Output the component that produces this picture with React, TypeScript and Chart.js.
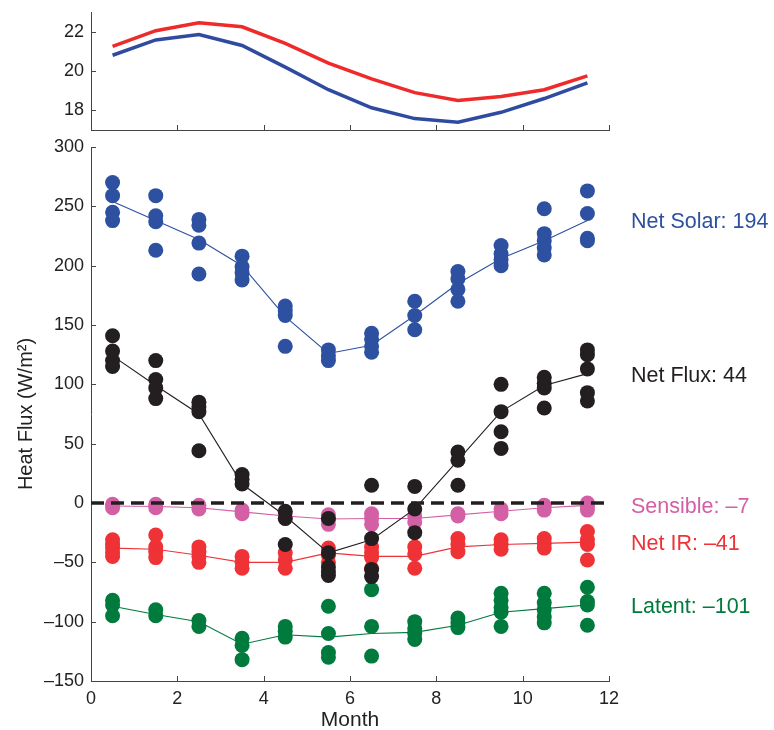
import React, { useEffect, useRef } from 'react';
import Chart from 'chart.js/auto';

// ---------- data ----------
const months = [0.5, 1.5, 2.5, 3.5, 4.5, 5.5, 6.5, 7.5, 8.5, 9.5, 10.5, 11.5];
const monthTicks = [0, 2, 4, 6, 8, 10, 12];
const fluxTicks = [-150, -100, -50, 0, 50, 100, 150, 200, 250, 300];
const tempTicks = [18, 20, 22];

const tempRed = [21.25, 22.05, 22.45, 22.25, 21.4, 20.4, 19.6, 18.9, 18.5, 18.7, 19.05, 19.75];
const tempBlue = [20.8, 21.58, 21.85, 21.3, 20.2, 19.05, 18.13, 17.58, 17.4, 17.9, 18.6, 19.4];

const solarPts = [
  [270, 259, 245, 238], [259, 242, 237, 213], [239, 234, 219, 193], [208, 199, 194, 188],
  [166, 162, 158, 132], [129, 124, 120], [143, 138, 132, 127], [170, 158, 146],
  [195, 189, 180, 170], [217, 210, 205, 200], [248, 227, 221, 215, 209], [263, 244, 223, 221],
];
const solarMean = [254, 238, 222, 200, 157, 126, 133, 158, 185, 206, 221, 238];

const netPts = [
  [141, 128, 120, 115], [120, 104, 97, 88], [85, 81, 77, 44], [24, 20, 16],
  [-7, -13, -35], [-13, -42, -54, -58, -61], [15, -30, -56, -62], [14, -5, -25],
  [43, 36, 15], [100, 77, 60, 46], [106, 101, 97, 80], [129, 125, 113, 93, 86],
];
const netMean = [124, 99, 75, 16, -11, -42, -31, -5, 36, 77, 99, 109];

const sensPts = [
  [-1, -4], [-1, -4], [-2, -5], [-6, -9], [-9, -13], [-10, -14, -18],
  [-9, -13, -18], [-11, -16], [-9, -11], [-5, -9], [-2, -6], [0, -3, -6],
];
const sensMean = [-2.5, -3, -4, -7.5, -11, -13.5, -13, -13, -10, -7, -4, -2];

const irPts = [
  [-31, -35, -38, -42, -45], [-27, -37, -41, -46], [-37, -41, -45, -50], [-45, -50, -55],
  [-42, -48, -55], [-38, -44, -50], [-37, -42, -46, -55], [-37, -43, -55],
  [-30, -35, -41], [-31, -35, -39], [-30, -34, -38], [-24, -31, -35, -48],
];
const irMean = [-38, -39, -44, -50, -50, -42, -45, -45, -37, -35, -34, -33];

const latPts = [
  [-82, -86, -95], [-90, -95], [-99, -104], [-114, -120, -132], [-104, -108, -113],
  [-87, -110, -126, -130], [-73, -104, -129], [-100, -106, -110, -115], [-97, -101, -105],
  [-76, -82, -88, -92, -104], [-76, -84, -90, -96, -101], [-71, -83, -86, -103],
];
const latMean = [-87, -94, -100, -119, -111, -113, -110, -109, -103, -92, -89, -86];

const seriesNames = ['Net Solar', 'Net Flux', 'Sensible', 'Net IR', 'Latent'];
const seriesTotals = [194, 44, -7, -41, -101];

// ---------- styles ----------
const FONT = '"Liberation Sans", Arial, Helvetica, sans-serif';
const C_BLUE = '#2E50A0';
const C_BLACK = '#231F20';
const C_PINK = '#D35FA5';
const C_RED = '#EE3236';
const C_GREEN = '#007A3D';
const AXIS = '#444444';

const fmt = (v: number) => (v < 0 ? '\u2013' + Math.abs(v) : String(v));

const series = [
  { name: seriesNames[0], total: seriesTotals[0], pts: solarPts, mean: solarMean, color: C_BLUE, order: 5 },
  { name: seriesNames[1], total: seriesTotals[1], pts: netPts, mean: netMean, color: C_BLACK, order: 1 },
  { name: seriesNames[2], total: seriesTotals[2], pts: sensPts, mean: sensMean, color: C_PINK, order: 2 },
  { name: seriesNames[3], total: seriesTotals[3], pts: irPts, mean: irMean, color: C_RED, order: 3 },
  { name: seriesNames[4], total: seriesTotals[4], pts: latPts, mean: latMean, color: C_GREEN, order: 4 },
];

const inwardTicks = {
  id: 'inwardTicks',
  beforeDatasetsDraw(chart: any) {
    const { ctx, chartArea, scales } = chart;
    ctx.save();
    ctx.strokeStyle = AXIS;
    ctx.lineWidth = 1;
    const len = 5;
    Object.values(scales).forEach((s: any) => {
      s.ticks.forEach((t: any) => {
        const p = Math.round(s.getPixelForValue(t.value)) + 0.5;
        ctx.beginPath();
        if (s.axis === 'x') {
          ctx.moveTo(p, chartArea.bottom);
          ctx.lineTo(p, chartArea.bottom - len);
        } else {
          ctx.moveTo(chartArea.left, p);
          ctx.lineTo(chartArea.left + len, p);
        }
        ctx.stroke();
      });
    });
    ctx.restore();
  },
};

const endLabels = {
  id: 'endLabels',
  afterDraw(chart: any) {
    const { ctx, chartArea, scales } = chart;
    ctx.save();
    ctx.font = `21.5px ${FONT}`;
    ctx.textBaseline = 'middle';
    ctx.textAlign = 'left';
    series.forEach((s) => {
      const y = scales.y.getPixelForValue(s.mean[s.mean.length - 1]) + 2;
      ctx.fillStyle = s.color;
      ctx.fillText(`${s.name}: ${fmt(s.total)}`, chartArea.right + 22, y);
    });
    ctx.restore();
  },
};

const setTicks = (vals: number[]) => (scale: any) => {
  scale.ticks = vals.map((v) => ({ value: v }));
};

const fixY = (w: number) => (s: any) => {
  s.width = w;
  s.paddingTop = 0;
  s.paddingBottom = 0;
};
const fixX = (h: number) => (s: any) => {
  s.height = h;
  s.paddingLeft = 0;
  s.paddingRight = 0;
};

export default function App() {
  const topRef = useRef<HTMLCanvasElement>(null);
  const botRef = useRef<HTMLCanvasElement>(null);

  useEffect(() => {
    const top = new Chart(topRef.current as HTMLCanvasElement, {
      type: 'line',
      data: {
        datasets: [
          {
            data: months.map((m, i) => ({ x: m, y: tempBlue[i] })),
            borderColor: '#2E4BA0',
            borderWidth: 3.5,
            pointRadius: 0,
            tension: 0,
            order: 2,
          },
          {
            data: months.map((m, i) => ({ x: m, y: tempRed[i] })),
            borderColor: '#EE2A2A',
            borderWidth: 3.5,
            pointRadius: 0,
            tension: 0,
            order: 1,
          },
        ],
      },
      options: {
        responsive: false,
        animation: false,
        events: [],
        layout: { padding: { top: 12, right: 165, left: 0, bottom: 0 }, autoPadding: false },
        plugins: { legend: { display: false }, tooltip: { enabled: false } },
        scales: {
          x: {
            type: 'linear',
            min: 0,
            max: 12,
            afterBuildTicks: setTicks(monthTicks),
            afterFit: fixX(10),
            ticks: { display: false },
            grid: { display: false, drawTicks: false },
            border: { display: true, color: AXIS, width: 1 },
          },
          y: {
            min: 17,
            max: 23,
            afterBuildTicks: setTicks(tempTicks),
            afterFit: fixY(91),
            ticks: { color: '#222', padding: 7, font: { family: FONT, size: 18 } },
            grid: { display: false, drawTicks: false },
            border: { display: true, color: AXIS, width: 1 },
          },
        },
      },
      plugins: [inwardTicks],
    } as any);

    const datasets: any[] = [];
    datasets.push({
      type: 'line',
      data: [{ x: 0, y: 0 }, { x: 12, y: 0 }],
      borderColor: C_BLACK,
      borderWidth: 3.5,
      borderDash: [13, 7],
      pointRadius: 0,
      order: 0,
    });
    series.forEach((s) => {
      const pts: any[] = [];
      s.pts.forEach((arr, i) => arr.forEach((v) => pts.push({ x: months[i], y: v })));
      datasets.push({
        type: 'scatter',
        data: pts,
        backgroundColor: s.color,
        borderWidth: 0,
        pointRadius: 7.5,
        order: s.order + 0.1,
      });
      datasets.push({
        type: 'line',
        data: months.map((m, i) => ({ x: m, y: s.mean[i] })),
        borderColor: s.color,
        borderWidth: 1.1,
        pointRadius: 0,
        tension: 0,
        order: s.order,
      });
    });

    const bot = new Chart(botRef.current as HTMLCanvasElement, {
      type: 'scatter',
      data: { datasets },
      options: {
        responsive: false,
        animation: false,
        events: [],
        layout: { padding: { top: 147, right: 165, left: 0, bottom: 0 }, autoPadding: false },
        plugins: { legend: { display: false }, tooltip: { enabled: false } },
        scales: {
          x: {
            type: 'linear',
            min: 0,
            max: 12,
            afterBuildTicks: setTicks(monthTicks),
            afterFit: fixX(49),
            ticks: { color: '#222', padding: 7, font: { family: FONT, size: 18 } },
            grid: { display: false, drawTicks: false },
            border: { display: true, color: AXIS, width: 1 },
            title: {
              display: true,
              text: 'Month',
              color: '#222',
              font: { family: FONT, size: 21 },
              padding: { top: 0, bottom: -3 },
            },
          },
          y: {
            type: 'linear',
            min: -150,
            max: 300,
            afterBuildTicks: setTicks(fluxTicks),
            afterFit: fixY(91),
            ticks: {
              color: '#222',
              padding: 7,
              font: { family: FONT, size: 18 },
              callback: (v: any) => fmt(Number(v)),
            },
            grid: { display: false, drawTicks: false },
            border: { display: true, color: AXIS, width: 1 },
            title: {
              display: true,
              text: 'Heat Flux (W/m\u00B2)',
              color: '#222',
              font: { family: FONT, size: 20 },
              padding: { top: 14, bottom: 0 },
            },
          },
        },
      },
      plugins: [inwardTicks, endLabels],
    } as any);

    return () => {
      top.destroy();
      bot.destroy();
    };
  }, []);

  return (
    <div style={{ position: 'absolute', left: 0, top: 0, width: 774, height: 730, background: '#fff' }}>
      <canvas ref={botRef} width={774} height={730} style={{ position: 'absolute', left: 0, top: 0, display: 'block' }} />
      <canvas ref={topRef} width={774} height={140} style={{ position: 'absolute', left: 0, top: 0, display: 'block' }} />
    </div>
  );
}
